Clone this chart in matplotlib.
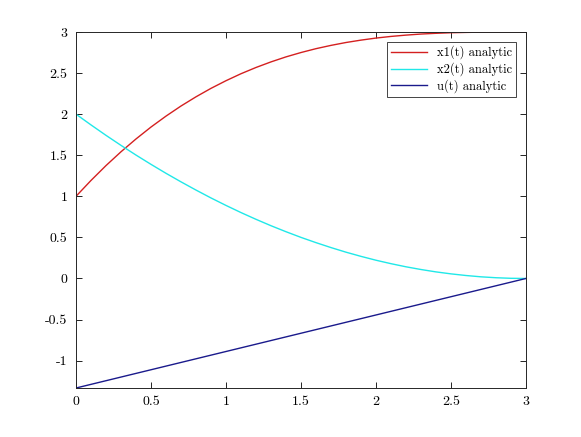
"""x1, x2, u analytic solution plot (MATLAB-style)."""

import matplotlib
matplotlib.use("Agg")
import matplotlib.pyplot as plt

# values
t = [0.0, 0.1, 0.2, 0.3, 0.4, 0.5, 0.6, 0.7, 0.8, 0.9, 1.0,
     1.1, 1.2, 1.3, 1.4, 1.5, 1.6, 1.7, 1.8, 1.9, 2.0,
     2.1, 2.2, 2.3, 2.4, 2.5, 2.6, 2.7, 2.8, 2.9, 3.0]
x1 = [1.0, 1.193, 1.374, 1.542, 1.698, 1.843, 1.976, 2.099, 2.211, 2.314, 2.407,
      2.492, 2.568, 2.636, 2.697, 2.750, 2.797, 2.837, 2.872, 2.901, 2.926,
      2.946, 2.962, 2.975, 2.984, 2.991, 2.995, 2.998, 2.999, 3.0, 3.0]
x2 = [2.0, 1.869, 1.742, 1.620, 1.502, 1.389, 1.280, 1.176, 1.076, 0.980, 0.889,
      0.802, 0.720, 0.642, 0.569, 0.500, 0.436, 0.376, 0.320, 0.269, 0.222,
      0.180, 0.142, 0.109, 0.080, 0.056, 0.036, 0.020, 0.009, 0.002, 0.0]
t_u = [0.0, 3.0]
u = [-1.3333, 0.0]

labels = ["x1(t) analytic", "x2(t) analytic", "u(t) analytic"]
x_ticks = [0, 0.5, 1, 1.5, 2, 2.5, 3]
y_ticks = [-1, -0.5, 0, 0.5, 1, 1.5, 2, 2.5, 3]

plt.rcParams["font.family"] = ["cmr10", "DejaVu Serif"]
plt.rcParams["axes.unicode_minus"] = False
plt.rcParams["axes.formatter.use_mathtext"] = False

fig = plt.figure(figsize=(5.81, 4.37), dpi=100)
ax = fig.add_axes([0.1308, 0.1121, 0.7745, 0.8147])

ax.plot(t, x1, color="#d42020", linewidth=1.0, label=labels[0])
ax.plot(t, x2, color="#20e8e8", linewidth=1.0, label=labels[1])
ax.plot(t_u, u, color="#1a1a8c", linewidth=1.0, label=labels[2])

ax.set_xlim(0, 3)
ax.set_ylim(-4 / 3, 3)
ax.set_xticks(x_ticks)
ax.set_xticklabels([f"{v:g}" for v in x_ticks])
ax.set_yticks(y_ticks)
ax.set_yticklabels([f"{v:g}" for v in y_ticks])
ax.tick_params(direction="in", top=True, right=True, length=4,
               width=0.6, labelsize=10, pad=6)
for s in ax.spines.values():
    s.set_linewidth(0.7)
    s.set_color("#262626")

leg = ax.legend(loc="upper right", fontsize=9, fancybox=False,
                edgecolor="#262626", framealpha=1, handlelength=2.9,
                borderaxespad=0.8, labelspacing=0.25, borderpad=0.3)
leg.get_frame().set_linewidth(0.6)

fig.savefig("out.png", dpi=100)
